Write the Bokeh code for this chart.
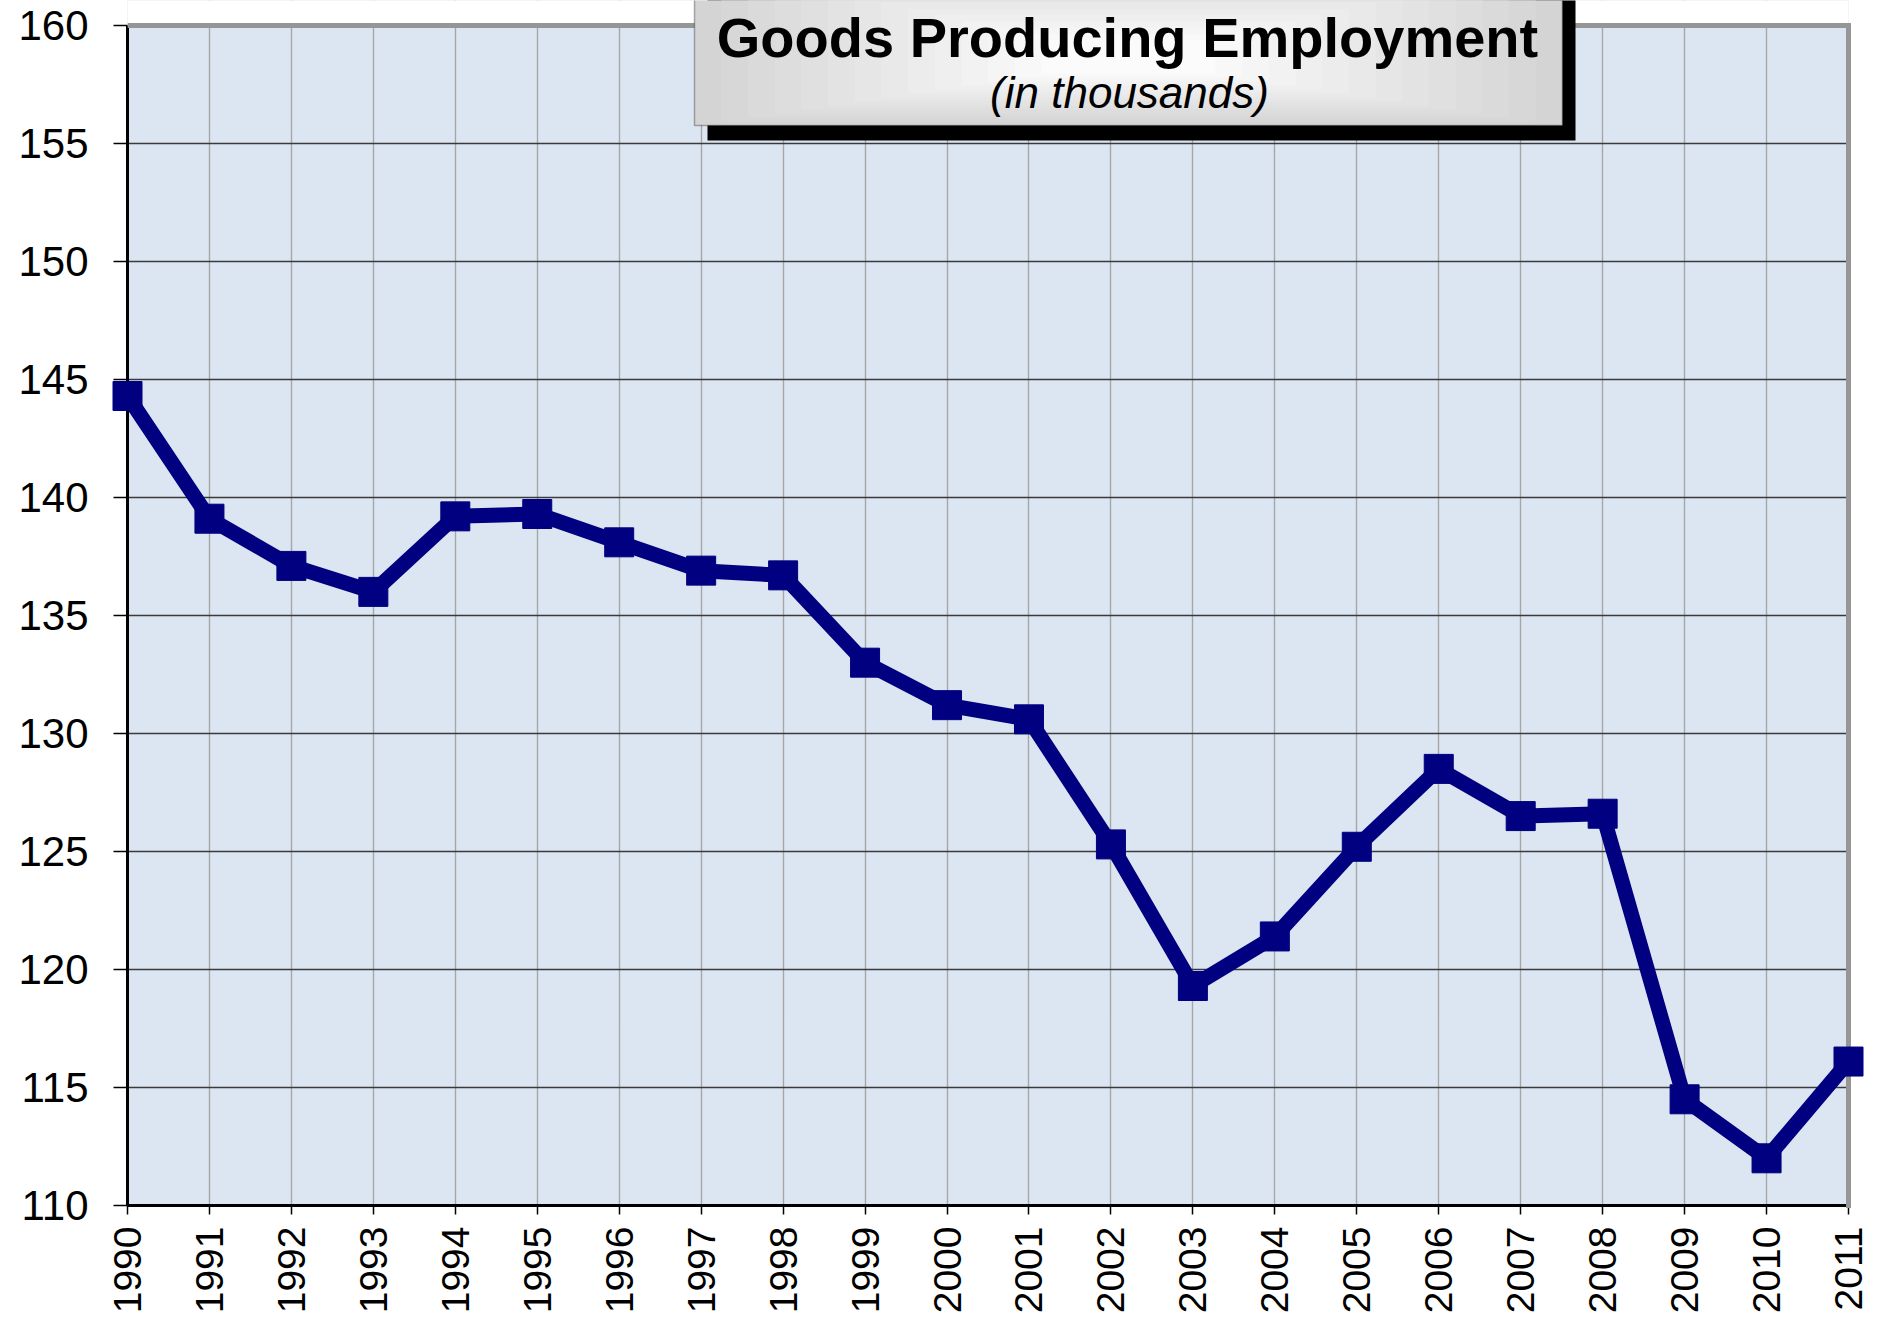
import math
from bokeh.plotting import figure
from bokeh.models import Range1d, FixedTicker, BoxAnnotation, Label, Span
from bokeh.embed import file_html
from bokeh.resources import INLINE

# ---- data ----
years = list(range(1990, 2012))
employment = [144.3, 139.1, 137.1, 136.0, 139.2, 139.3, 138.1, 136.9, 136.7, 133.0, 131.2,
              130.6, 125.3, 119.3, 121.4, 125.2, 128.5, 126.5, 126.6, 114.5, 112.0, 116.1]
y_ticks = [110, 115, 120, 125, 130, 135, 140, 145, 150, 155, 160]
title_text = "Goods Producing Employment"
subtitle_text = "(in thousands)"

# ---- layout (pixels) ----
W, H = 1880, 1316
PL, PT, PR, PB = 127, 25, 1848, 1207   # plot-area edges on the page
BL, BR, BB = PL, W - PR, H - PB
FONT = "Liberation Sans"
GRAY = "#969696"

x0, x1 = years[0], years[-1]
y0, y1 = y_ticks[0], y_ticks[-1]
ppy = (PB - PT) / (y1 - y0)
x_range = Range1d(x0, x1)
y_range = Range1d(y0, y1 + PT / ppy)   # frame reaches the page top so the title box is not clipped

p = figure(width=W, height=H, x_range=x_range, y_range=y_range,
           output_backend="svg", toolbar_location=None, title=None,
           min_border_left=BL, min_border_top=0, min_border_right=BR, min_border_bottom=BB)

p.background_fill_color = "#DCE6F2"
p.border_fill_color = "white"
p.outline_line_color = None

# grids
p.xgrid.ticker = FixedTicker(ticks=years)
p.xgrid.grid_line_color = "#a6a6a6"
p.xgrid.grid_line_width = 1.4
p.ygrid.ticker = FixedTicker(ticks=y_ticks)
p.ygrid.grid_line_color = "#3a3a3a"
p.ygrid.grid_line_width = 1.6

# white area above the plot area, gray top border
p.add_layout(BoxAnnotation(bottom=y1, fill_color="white", fill_alpha=1, line_color=None))
p.add_layout(Span(location=y1, dimension="width", line_color=GRAY, line_width=5))

# axes
p.xaxis.ticker = FixedTicker(ticks=years)
p.yaxis.ticker = FixedTicker(ticks=y_ticks)
p.xaxis.bounds = (x0, x1)
p.yaxis.bounds = (y0, y1)
for ax in (p.xaxis[0], p.yaxis[0]):
    ax.axis_line_color = "black"
    ax.axis_line_width = 3
    ax.major_tick_line_color = "black"
    ax.major_tick_line_width = 1.5
    ax.major_tick_in = 0
    ax.minor_tick_line_color = None
    ax.major_label_text_font = FONT
    ax.major_label_text_color = "black"
p.yaxis.major_tick_out = 14
p.yaxis.major_label_standoff = 25
p.yaxis.major_label_text_font_size = "42px"
p.xaxis.major_tick_out = 9
p.xaxis.major_label_standoff = 12
p.xaxis.major_label_text_font_size = "39px"
p.xaxis.major_label_orientation = math.pi / 2

# gray right border (overlay so it is not clipped at the frame edge)
p.segment(x0=[x1], y0=[y0], x1=[x1], y1=[y1], line_color=GRAY, line_width=5,
          line_cap="square", level="overlay")

# data
p.line(years, employment, line_color="#000080", line_width=15, line_join="round", level="overlay")
p.scatter(years, employment, marker="square", size=29, fill_color="#000080",
          line_color="#000080", line_width=1, level="overlay")

# ---- title box (screen units relative to frame bottom-left) ----
def sx(ix):
    return ix - PL


def sy(iy):
    return PB - iy


def sbox(l, r, t, b, **kw):
    return BoxAnnotation(left=sx(l), right=sx(r), top=sy(t), bottom=sy(b),
                         left_units="screen", right_units="screen",
                         top_units="screen", bottom_units="screen", **kw)


p.add_layout(sbox(707, 1575, -40, 142, fill_color="black", fill_alpha=1, line_color=None))

bx0, bx1, by0, by1 = 694, 1562, -40, 127
cx, cy = (bx0 + bx1) / 2, 62
n = 14
c0, c1 = (212, 212, 212), (251, 251, 251)
for i in range(n):
    t = i / (n - 1)
    f = 1 - 0.8 * t
    col = "#%02x%02x%02x" % tuple(int(round(a + (b - a) * t)) for a, b in zip(c0, c1))
    p.add_layout(sbox(cx - (cx - bx0) * f, cx + (bx1 - cx) * f,
                      cy - (cy - by0) * f, cy + (by1 - cy) * f,
                      fill_color=col, fill_alpha=1, line_color=None))

p.add_layout(sbox(bx0, bx1, by0, by1, fill_color=None, fill_alpha=0,
                  line_color="black", line_width=1.5))

p.add_layout(Label(x=sx(1127), y=sy(39), x_units="screen", y_units="screen",
                   text=title_text, text_font=FONT, text_font_style="bold",
                   text_font_size="56px", text_color="black",
                   text_align="center", text_baseline="alphabetic"))
p.add_layout(Label(x=sx(1129), y=sy(94), x_units="screen", y_units="screen",
                   text=subtitle_text, text_font=FONT, text_font_style="italic",
                   text_font_size="44px", text_color="black",
                   text_align="center", text_baseline="alphabetic"))

open("out.html", "w").write(file_html(p, INLINE))
